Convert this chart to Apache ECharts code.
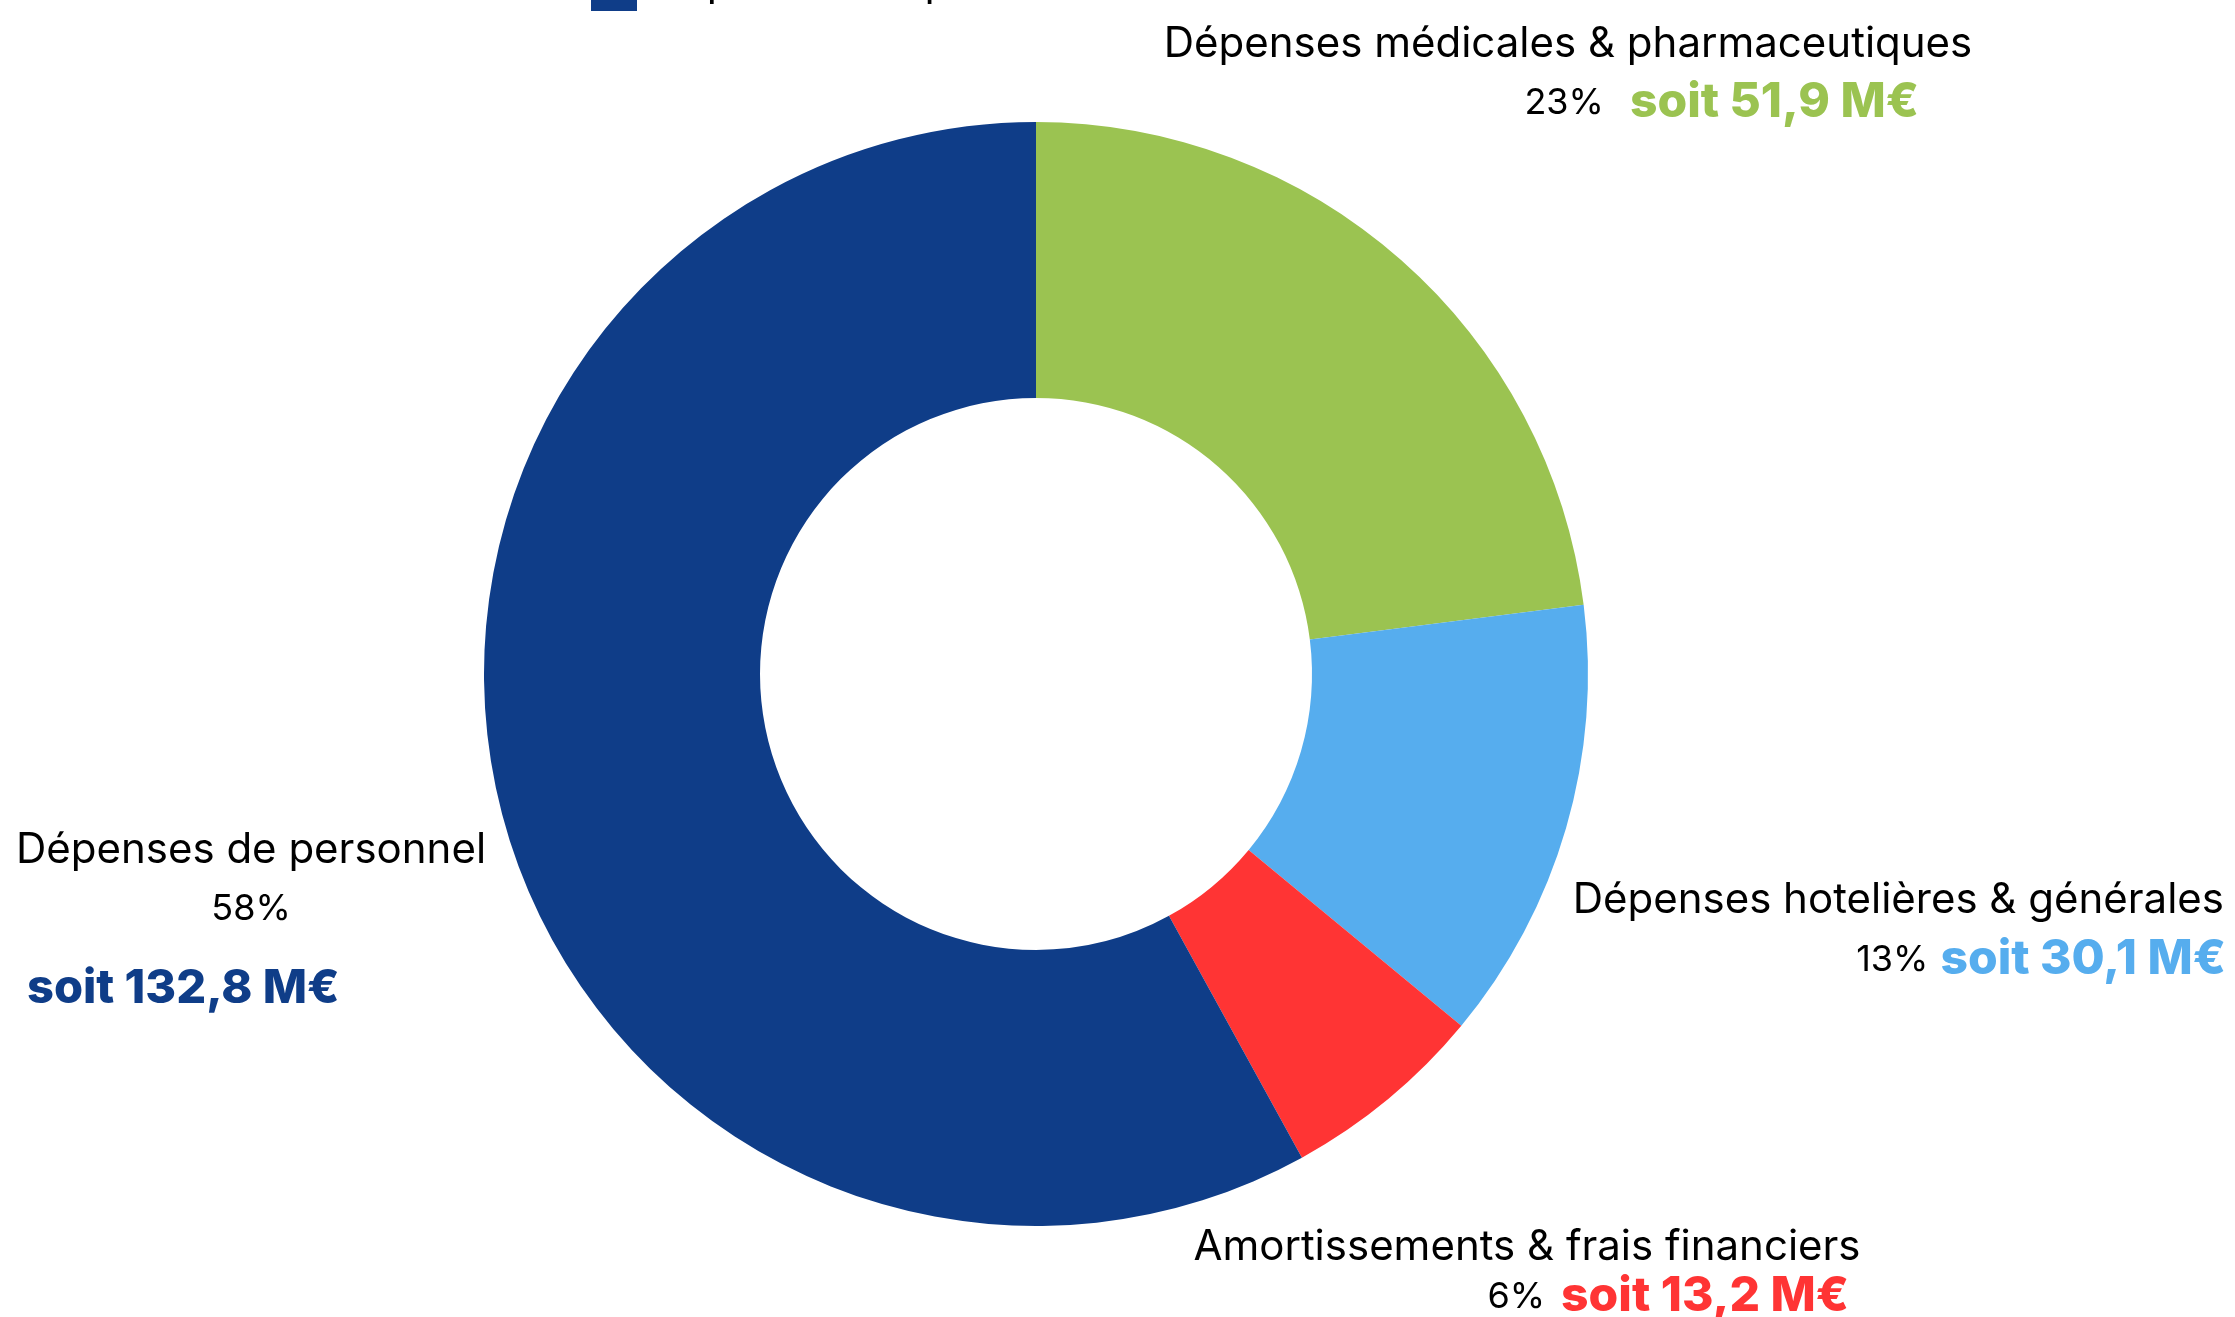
<!DOCTYPE html>
<html>
<head>
<meta charset="utf-8">
<script src="https://cdn.jsdelivr.net/npm/echarts@6/dist/echarts.min.js"></script>
<style>
  html, body { margin: 0; padding: 0; background: #fff; }
  #main { width: 2235px; height: 1317px; }
</style>
</head>
<body>
<div id="main"></div>
<script>
// slices in drawing order, clockwise from 12 o'clock
const categories = [
    'Dépenses médicales & pharmaceutiques',
    'Dépenses hotelières & générales',
    'Amortissements & frais financiers',
    'Dépenses de personnel'
];
const percents = [23, 13, 6, 58];
const amounts = [51.9, 30.1, 13.2, 132.8];     // M€
const colors = ['#9BC351', '#56ADEE', '#FF3434', '#0F3D88'];

const FONT = 'Inter, "Noto Sans", sans-serif';

// where each label block sits (px)
const labelPos = [
    { nx: 1568, ny: 44, na: 'center', vx: 1919, vy: 103, gap: 26 },
    { nx: 2224, ny: 900, na: 'right', vx: 2226, vy: 960, gap: 12 },
    { nx: 1527, ny: 1247, na: 'center', vx: 1849, vy: 1297, gap: 16 },
    { nx: 251, ny: 850, na: 'center', px: 251, py: 909, sx: 27, sy: 989 }
];

function fmt(v) {
    return 'soit ' + v.toFixed(1).replace('.', ',') + ' M€';
}

let graphics = [];
categories.forEach(function(name, i) {
    let p = labelPos[i];
    graphics.push({
        type: 'text', x: p.nx, y: p.ny,
        style: { text: name, font: '400 42px ' + FONT, fill: '#000',
                 align: p.na, verticalAlign: 'middle' }
    });
    if (p.vx !== undefined) {
        graphics.push({
            type: 'text', x: p.vx, y: p.vy,
            style: {
                text: '{p|' + percents[i] + '%}{v|' + fmt(amounts[i]) + '}',
                align: 'right', verticalAlign: 'middle',
                rich: {
                    p: { font: '400 36px ' + FONT, fill: '#000', padding: [0, p.gap, 0, 0] },
                    v: { font: '800 48px ' + FONT, fill: colors[i] }
                }
            }
        });
    } else {
        graphics.push({
            type: 'text', x: p.px, y: p.py,
            style: { text: percents[i] + '%', font: '400 36px ' + FONT, fill: '#000',
                     align: 'center', verticalAlign: 'middle' }
        });
        graphics.push({
            type: 'text', x: p.sx, y: p.sy,
            style: { text: fmt(amounts[i]), font: '800 47px ' + FONT, fill: colors[i],
                     align: 'left', verticalAlign: 'middle' }
        });
    }
});

let chart = echarts.init(document.getElementById('main'));
chart.setOption({
    animation: false,
    backgroundColor: '#fff',
    legend: {
        data: ['Dépenses de personnel'],
        left: 591,
        top: -38,
        padding: 0,
        icon: 'rect',
        itemWidth: 46,
        itemHeight: 44,
        selectedMode: false,
        formatter: '{a|{name}}{b| }',
        textStyle: {
            fontFamily: FONT, color: '#000',
            rich: {
                a: { fontFamily: FONT, fontSize: 42, lineHeight: 42, verticalAlign: 'top', padding: [0, 0, 0, 10] },
                b: { fontSize: 10, lineHeight: 54 }
            }
        }
    },
    graphic: graphics,
    series: [{
        type: 'pie',
        center: [1036, 674],
        radius: [276, 552],
        startAngle: 90,
        clockwise: true,
        label: { show: false },
        labelLine: { show: false },
        emphasis: { disabled: true },
        data: categories.map(function(name, i) {
            return { name: name, value: percents[i], itemStyle: { color: colors[i] } };
        })
    }]
});
</script>
</body>
</html>
